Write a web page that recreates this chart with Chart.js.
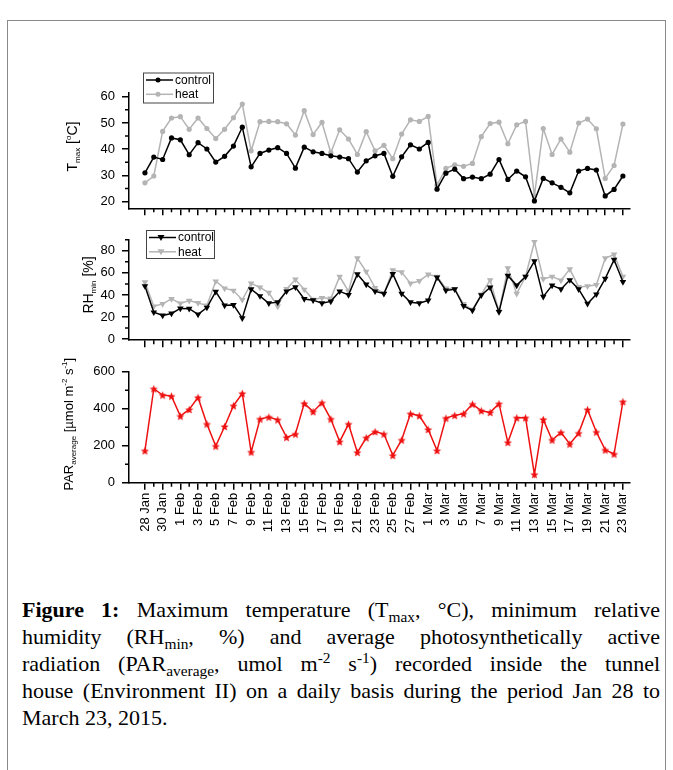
<!DOCTYPE html>
<html>
<head>
<meta charset="utf-8">
<title>Figure 1</title>
<script src="https://cdn.jsdelivr.net/npm/chart.js@4.4.1/dist/chart.umd.min.js"></script>
<style>
  html, body { margin: 0; padding: 0; background: #fff; }
  body { width: 673px; height: 770px; position: relative; overflow: hidden; }
  .frame { position: absolute; left: 7px; top: 20px; width: 659px; height: 780px; border: 1px solid #8a8a8a; box-sizing: border-box; }
  canvas { position: absolute; left: 0; }
  #caption { position: absolute; left: 22px; top: 596px; width: 638px;
             font-family: 'Liberation Serif', 'Times New Roman', serif; font-size: 22px; color: #000; }
  #caption .ln { height: 27px; line-height: 27px; }
  #caption .j { text-align: justify; text-align-last: justify; }
  #caption b { font-weight: bold; }
  #caption sub { font-size: 0.7em; vertical-align: -0.3em; line-height: 0; }
  #caption sup { font-size: 0.7em; vertical-align: 0.5em; line-height: 0; }
</style>
</head>
<body>
<div class="frame"></div>
<canvas id="tmaxChart" width="673" height="170" style="top:55px"></canvas>
<canvas id="rhChart" width="673" height="130" style="top:225px"></canvas>
<canvas id="parChart" width="673" height="205" style="top:355px"></canvas>
<div id="caption">
  <div class="ln j"><b>Figure 1:</b> Maximum temperature (T<sub>max</sub>, °C), minimum relative</div>
  <div class="ln j">humidity (RH<sub>min</sub>, %) and average photosynthetically active</div>
  <div class="ln j">radiation (PAR<sub>average</sub>, umol m<sup>-2</sup> s<sup>-1</sup>) recorded inside the tunnel</div>
  <div class="ln j">house (Environment II) on a daily basis during the period Jan 28 to</div>
  <div class="ln">March 23, 2015.</div>
</div>
<script>
const dates = [
    '28 Jan', '29 Jan', '30 Jan', '31 Jan',
    '1 Feb', '2 Feb', '3 Feb', '4 Feb', '5 Feb', '6 Feb', '7 Feb', '8 Feb', '9 Feb', '10 Feb',
    '11 Feb', '12 Feb', '13 Feb', '14 Feb', '15 Feb', '16 Feb', '17 Feb', '18 Feb', '19 Feb', '20 Feb',
    '21 Feb', '22 Feb', '23 Feb', '24 Feb', '25 Feb', '26 Feb', '27 Feb', '28 Feb',
    '1 Mar', '2 Mar', '3 Mar', '4 Mar', '5 Mar', '6 Mar', '7 Mar', '8 Mar', '9 Mar', '10 Mar',
    '11 Mar', '12 Mar', '13 Mar', '14 Mar', '15 Mar', '16 Mar', '17 Mar', '18 Mar', '19 Mar', '20 Mar',
    '21 Mar', '22 Mar', '23 Mar'
];

// Tmax [°C]
const tmaxControl = [31.0, 37.0, 36.1, 44.3, 43.6, 37.9, 42.5, 40.1, 35.1, 37.3, 41.2, 48.4, 33.3, 38.4,
    39.7, 40.6, 38.4, 32.8, 40.8, 39.0, 38.4, 37.5, 37.0, 36.4, 31.3, 35.6, 37.5, 38.4, 29.7, 37.1,
    41.7, 40.1, 42.6, 24.8, 30.9, 32.4, 28.8, 29.4, 28.8, 30.5, 36.1, 28.5, 31.7, 29.5, 20.3, 28.9,
    27.2, 25.5, 23.4, 31.7, 32.7, 32.1, 22.2, 24.7, 29.8];
const tmaxHeat = [27.2, 29.8, 46.8, 51.9, 52.4, 47.6, 51.9, 47.9, 44.1, 47.6, 52.0, 57.2, 39.4, 50.5,
    50.6, 50.5, 49.7, 45.4, 54.7, 45.6, 50.2, 38.7, 47.4, 43.9, 38.0, 46.7, 39.4, 41.5, 36.4, 45.8,
    51.2, 50.6, 52.5, 26.3, 32.7, 34.1, 33.5, 34.6, 44.8, 49.8, 50.3, 42.1, 49.3, 50.6, 22.2, 47.9,
    38.0, 43.9, 38.9, 50.0, 51.5, 47.8, 28.9, 33.8, 49.6];

// RHmin [%]
const rhControl = [48.1, 24.3, 21.4, 23.2, 27.8, 27.6, 22.4, 28.6, 43.0, 30.5, 31.0, 19.0, 45.2, 39.0,
    32.5, 33.5, 43.3, 47.1, 36.4, 35.3, 32.6, 34.2, 43.3, 40.1, 58.8, 49.5, 43.3, 41.2, 59.1, 41.2,
    33.4, 32.6, 35.0, 55.9, 44.1, 45.2, 30.0, 26.0, 39.8, 46.8, 24.6, 57.5, 48.7, 56.7, 70.6, 38.5,
    48.7, 45.2, 53.5, 45.2, 32.1, 40.6, 54.8, 71.9, 51.9];
const rhHeat = [51.6, 29.7, 31.9, 36.5, 32.4, 34.9, 32.7, 30.5, 52.4, 46.0, 44.0, 35.6, 50.5, 46.8,
    42.0, 29.7, 45.5, 54.0, 44.9, 35.8, 37.4, 36.9, 56.7, 43.3, 73.3, 61.2, 46.5, 41.2, 62.6, 60.7,
    50.5, 52.7, 58.6, 56.7, 46.0, 45.5, 31.8, 26.7, 40.6, 53.5, 25.1, 64.2, 41.2, 56.7, 88.2, 54.5,
    56.7, 53.2, 63.4, 47.3, 47.9, 49.2, 73.3, 76.7, 56.7];

// PAR average [umol m-2 s-1]
const parAverage = [173, 508, 474, 468, 360, 396, 461, 317, 198, 304, 416, 483, 166, 344,
    355, 340, 245, 263, 429, 384, 432, 344, 222, 317, 164, 243, 276, 263, 148, 231,
    373, 362, 288, 174, 349, 364, 373, 425, 389, 380, 427, 218, 351, 351, 45, 342,
    231, 272, 209, 268, 395, 274, 177, 155, 438];

const tmaxTicks = [20, 30, 40, 50, 60];
const tmaxMinor = [25, 35, 45, 55];
const rhTicks = [0, 20, 40, 60, 80];
const rhMinor = [10, 30, 50, 70, 90];
const parTicks = [0, 200, 400, 600];
const parMinor = [100, 300, 500];

const FONT = "'Liberation Sans', Arial, sans-serif";
const GRAY = '#b4b4b4';
const RED = '#ee1111';

const toXY = arr => arr.map((v, i) => ({ x: i, y: v }));

function makeStar(r, color) {
    const c = document.createElement('canvas');
    const s = Math.ceil(r * 2) + 2;
    c.width = s; c.height = s;
    const g = c.getContext('2d');
    g.translate(s / 2, s / 2 + 0.5);
    g.beginPath();
    for (let k = 0; k < 10; k++) {
        const rad = k % 2 ? r * 0.45 : r;
        const a = -Math.PI / 2 + k * Math.PI / 5;
        g.lineTo(rad * Math.cos(a), rad * Math.sin(a));
    }
    g.closePath();
    g.fillStyle = color;
    g.fill();
    return c;
}

// small ticks between the labelled ones
const minorTicks = {
    id: 'minorTicks',
    afterDraw(chart, args, opts) {
        const { ctx } = chart;
        const x = chart.scales.x, y = chart.scales.y;
        ctx.save();
        ctx.strokeStyle = '#000';
        ctx.lineWidth = 1.5;
        ctx.beginPath();
        dates.forEach((d, i) => {
            if (i % 2) {
                const px = x.getPixelForValue(i);
                ctx.moveTo(px, x.top);
                ctx.lineTo(px, x.top + 4);
            }
        });
        (opts.values || []).forEach(v => {
            const py = y.getPixelForValue(v);
            ctx.moveTo(y.right, py);
            ctx.lineTo(y.right - 4, py);
        });
        ctx.stroke();
        ctx.restore();
    }
};

// rotated y-axis title with sub/superscripts
const axisTitle = {
    id: 'axisTitle',
    afterDraw(chart, args, opts) {
        if (!opts.parts) return;
        const { ctx, chartArea } = chart;
        const cy = (chartArea.top + chartArea.bottom) / 2 + (opts.dy || 0);
        const main = opts.size || 14;
        ctx.save();
        ctx.translate(opts.x, cy);
        ctx.rotate(-Math.PI / 2);
        let w = 0;
        opts.parts.forEach(p => {
            ctx.font = (p.s || main) + 'px ' + FONT;
            p.w = ctx.measureText(p.t).width;
            w += p.w;
        });
        let tx = -w / 2;
        ctx.fillStyle = '#000';
        ctx.textBaseline = 'alphabetic';
        opts.parts.forEach(p => {
            ctx.font = (p.s || main) + 'px ' + FONT;
            ctx.fillText(p.t, tx, main * 0.36 + (p.dy || 0));
            tx += p.w;
        });
        ctx.restore();
    }
};

// boxed legend like the original
const boxLegend = {
    id: 'boxLegend',
    afterDraw(chart, args, opts) {
        if (!opts.items) return;
        const { ctx } = chart;
        ctx.save();
        ctx.strokeStyle = '#444';
        ctx.lineWidth = 1;
        ctx.strokeRect(opts.left + 0.5, opts.top + 0.5, opts.width, opts.height);
        opts.items.forEach((it, k) => {
            const yy = opts.top + 7.5 + k * 14.3;
            ctx.strokeStyle = it.color;
            ctx.fillStyle = it.color;
            ctx.lineWidth = 1.5;
            ctx.beginPath();
            ctx.moveTo(opts.left + 3, yy);
            ctx.lineTo(opts.left + 30, yy);
            ctx.stroke();
            const mx = opts.left + 15;
            ctx.beginPath();
            if (it.marker === 'triangle') {
                ctx.moveTo(mx - 3.5, yy - 2.5);
                ctx.lineTo(mx + 3.5, yy - 2.5);
                ctx.lineTo(mx, yy + 3.5);
                ctx.closePath();
            } else {
                ctx.arc(mx, yy, 2.5, 0, Math.PI * 2);
            }
            ctx.fill();
            ctx.fillStyle = '#000';
            ctx.font = '12px ' + FONT;
            ctx.textBaseline = 'middle';
            ctx.fillText(it.label, opts.left + 32, yy + 0.5);
        });
        ctx.restore();
    }
};

function panelOptions(cfg) {
    return {
        responsive: false,
        animation: false,
        layout: { padding: { top: cfg.padTop, bottom: cfg.padBottom, left: 0, right: 43 } },
        plugins: {
            legend: { display: false },
            tooltip: { enabled: false },
            minorTicks: { values: cfg.minor },
            axisTitle: cfg.title,
            boxLegend: cfg.legend || {}
        },
        scales: {
            x: {
                type: 'linear',
                min: -1.8,
                max: 54.8,
                afterBuildTicks: s => {
                    s.ticks = dates.map((d, i) => ({ value: i })).filter(t => t.value % 2 === 0);
                },
                afterFit: s => { s.height = cfg.xHeight; },
                grid: { drawOnChartArea: false, color: '#000', lineWidth: 1.5, tickLength: 7 },
                border: { color: '#000', width: 1.5 },
                ticks: {
                    display: cfg.xLabels,
                    autoSkip: false,
                    minRotation: 90,
                    maxRotation: 90,
                    padding: 3,
                    color: '#000',
                    font: { family: FONT, size: 13 },
                    callback: v => dates[v]
                }
            },
            y: {
                min: cfg.min,
                max: cfg.max,
                afterBuildTicks: s => { s.ticks = cfg.ticks.map(v => ({ value: v })); },
                afterFit: s => { s.width = 129; },
                grid: { drawOnChartArea: false, color: '#000', lineWidth: 1.5, tickLength: 7 },
                border: { color: '#000', width: 1.5 },
                ticks: {
                    padding: 7,
                    color: '#000',
                    font: { family: FONT, size: 13 },
                    callback: v => String(v)
                }
            }
        }
    };
}

function lineSet(label, values, color, style, radius) {
    return {
        label: label,
        data: toXY(values),
        borderColor: color,
        backgroundColor: color,
        borderWidth: 1.5,
        pointStyle: style,
        pointRadius: radius,
        pointRotation: style === 'triangle' ? 180 : 0,
        pointBorderWidth: 0,
        pointBackgroundColor: color,
        tension: 0
    };
}

document.addEventListener('DOMContentLoaded', function () {
    Chart.register(minorTicks, axisTitle, boxLegend);

    new Chart(document.getElementById('tmaxChart'), {
        type: 'line',
        data: {
            datasets: [
                lineSet('control', tmaxControl, '#000', 'circle', 2.6),
                lineSet('heat', tmaxHeat, GRAY, 'circle', 2.6)
            ]
        },
        options: panelOptions({
            padTop: 37.8, padBottom: 6.7, xHeight: 10, xLabels: false,
            min: 17.5, max: 61.5, ticks: tmaxTicks, minor: tmaxMinor,
            title: { x: 72, dy: -4, parts: [
                { t: 'T' }, { t: 'max', s: 8, dy: 3 }, { t: ' [' }, { t: 'o', s: 8, dy: -6 }, { t: 'C]' }
            ] },
            legend: { left: 143, top: 17.5, width: 70, height: 30, items: [
                { label: 'control', color: '#000', marker: 'circle' },
                { label: 'heat', color: GRAY, marker: 'circle' }
            ] }
        })
    });

    new Chart(document.getElementById('rhChart'), {
        type: 'line',
        data: {
            datasets: [
                lineSet('control', rhControl, '#000', 'triangle', 3.8),
                lineSet('heat', rhHeat, GRAY, 'triangle', 3.8)
            ]
        },
        options: panelOptions({
            padTop: 8.5, padBottom: 3.3, xHeight: 5, xLabels: false,
            min: -1, max: 90, ticks: rhTicks, minor: rhMinor,
            title: { x: 88, dy: -5, parts: [
                { t: 'RH' }, { t: 'min', s: 8, dy: 3 }, { t: ' [%]' }
            ] },
            legend: { left: 146, top: 5, width: 68, height: 28, items: [
                { label: 'control', color: '#000', marker: 'triangle' },
                { label: 'heat', color: GRAY, marker: 'triangle' }
            ] }
        })
    });

    new Chart(document.getElementById('parChart'), {
        type: 'line',
        data: {
            datasets: [
                lineSet('PAR average', parAverage, RED, makeStar(4.3, RED), 4)
            ]
        },
        options: panelOptions({
            padTop: 16.7, padBottom: 17.3, xHeight: 60, xLabels: true,
            min: 0, max: 600, ticks: parTicks, minor: parMinor,
            title: { x: 68, dy: -3, size: 13, parts: [
                { t: 'PAR' }, { t: 'average', s: 8, dy: 3 }, { t: ' [\u00b5mol m' },
                { t: '-2', s: 8, dy: -6 }, { t: ' s' }, { t: '-1', s: 8, dy: -6 }, { t: ']' }
            ] }
        })
    });
});
</script>
</body>
</html>
